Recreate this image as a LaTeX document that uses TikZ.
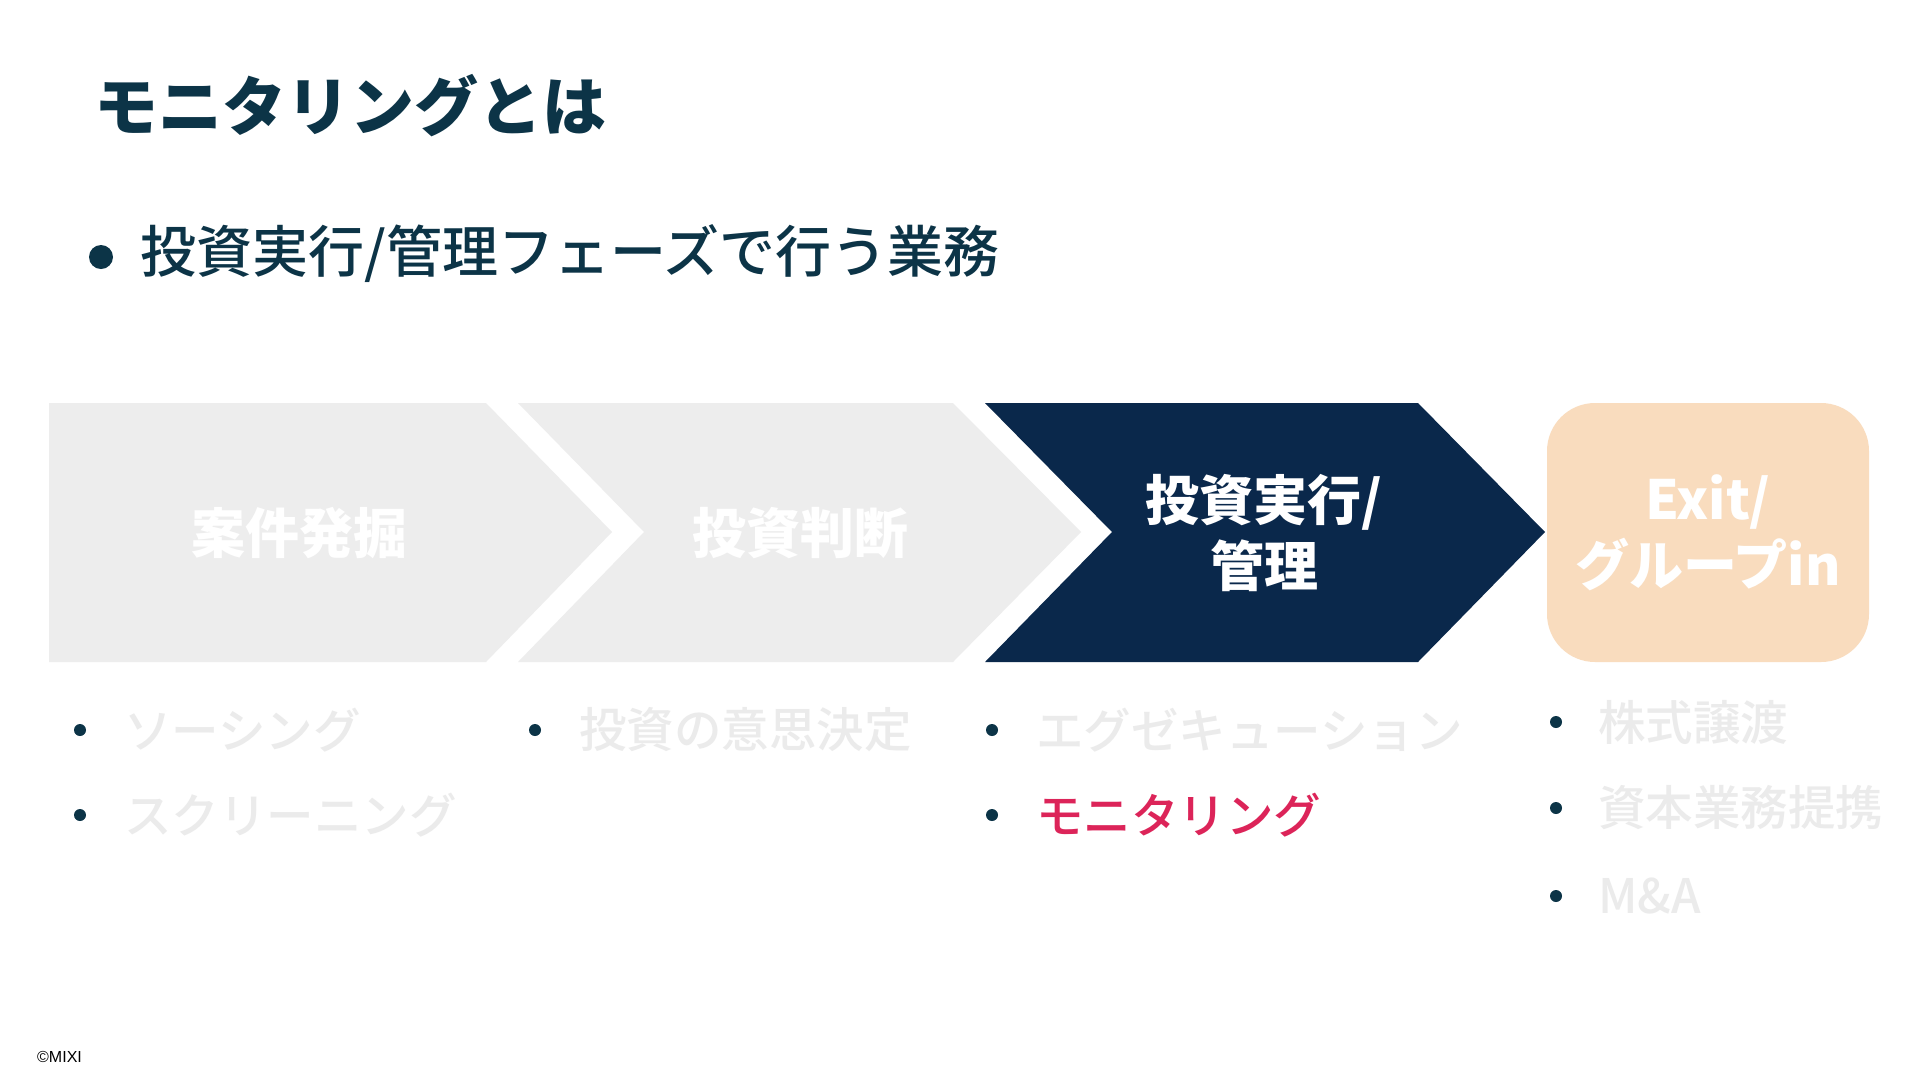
\documentclass[tikz,border=0pt]{standalone}
\usepackage{fontspec}
\setmainfont{Noto Sans CJK JP}
\newfontfamily\jpmed{Noto Sans CJK JP Medium}
\newfontfamily\latinsans{Liberation Sans}
\definecolor{ink}{HTML}{0C3447}
\definecolor{navy}{HTML}{0A284B}
\definecolor{chevgrey}{HTML}{EDEDED}
\definecolor{peach}{HTML}{F9DCBE}
\definecolor{subgrey}{HTML}{EBEBEB}
\definecolor{hot}{HTML}{DC2459}
\begin{document}
\begin{tikzpicture}[x=1pt,y=-1pt,
  titletext/.style={anchor=west,inner sep=0pt,text=ink,font=\fontsize{64}{70}\selectfont\bfseries},
  leadtext/.style={anchor=west,inner sep=0pt,text=ink,font=\jpmed\fontsize{56}{60}\selectfont},
  phase/.style={align=center,inner sep=0pt,text=white,font=\fontsize{54}{66}\selectfont\bfseries},
  item/.style={anchor=west,inner sep=0pt,text=subgrey,font=\jpmed\fontsize{47.5}{50}\selectfont},
  bigdot/.style={circle,fill=ink,inner sep=0pt,minimum size=24pt},
  smalldot/.style={circle,fill=ink,inner sep=0pt,minimum size=12pt},
]
\useasboundingbox[fill=white] (0,0) rectangle (1920,1080);

% title and lead
\node[titletext] (title) at (94,106) {モニタリングとは};
\node[bigdot] (leaddot) at (101,257) {};
\node[leadtext] (lead) at (140,254) {投資実行/管理フェーズで行う業務};

% phase shapes
\fill[chevgrey] (49,403) -- (486,403) -- (612,532) -- (486,662) -- (49,662) -- cycle;
\fill[chevgrey] (518,403) -- (953,403) -- (1081,532) -- (953,662) -- (518,662) -- (644,532) -- cycle;
\fill[navy] (985,403) -- (1418,403) -- (1545,532) -- (1418,662) -- (985,662) -- (1112,532) -- cycle;
\fill[peach, rounded corners=48pt] (1547,403) rectangle (1869,662);

% phase labels
\node[phase] (p1) at (299,533) {案件発掘};
\node[phase] (p2) at (800,533) {投資判断};
\node[phase] (p3) at (1264,533) {投資実行/\\管理};
\node[phase] (p4) at (1708,533) {Exit/\\グループin};

% column 1
\node[smalldot] (d11) at (80,730) {};
\node[item] (t11) at (124,730) {ソーシング};
\node[smalldot] (d12) at (80,815) {};
\node[item] (t12) at (124,815) {スクリーニング};
% column 2
\node[smalldot] (d21) at (535,730) {};
\node[item] (t21) at (579,730) {投資の意思決定};
% column 3
\node[smalldot] (d31) at (992,730) {};
\node[item] (t31) at (1036,730) {エグゼキューション};
\node[smalldot] (d32) at (992,815) {};
\node[item,text=hot] (t32) at (1036,815) {モニタリング};
% column 4
\node[smalldot] (d41) at (1556,722) {};
\node[item] (t41) at (1598,722) {株式譲渡};
\node[smalldot] (d42) at (1556,808) {};
\node[item] (t42) at (1598,808) {資本業務提携};
\node[smalldot] (d43) at (1556,896) {};
\node[item] (t43) at (1598,896) {M\&A};

% footer
\node[anchor=west,inner sep=0pt,font=\latinsans\fontsize{16}{18}\selectfont] (copy) at (37,1057) {©MIXI};
\end{tikzpicture}
\end{document}
